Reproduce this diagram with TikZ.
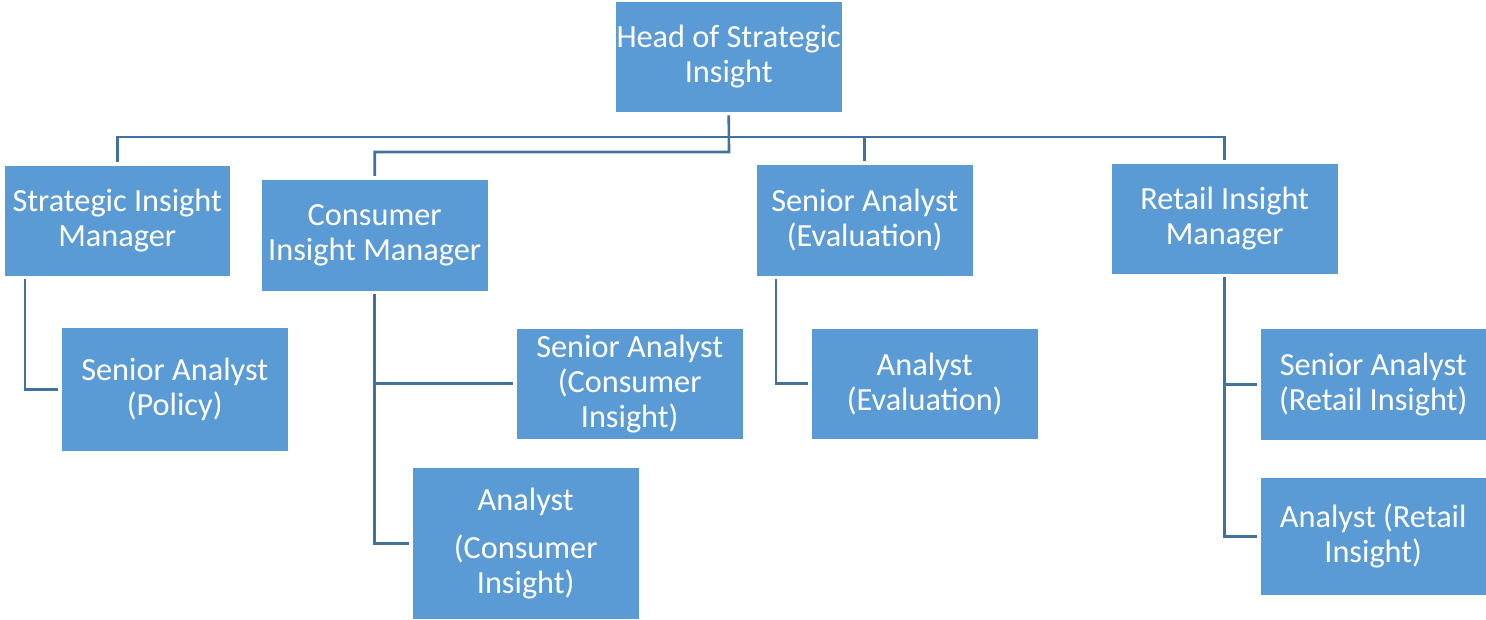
\documentclass[tikz,border=0pt]{standalone}
\usepackage{fontspec}
\setmainfont{Carlito}
\usepackage{xcolor}
\definecolor{boxblue}{RGB}{91,155,213}
\definecolor{lineblue}{RGB}{65,113,156}

\begin{document}
\begin{tikzpicture}[x=1pt, y=-1pt,
  BX/.style ={draw=white, fill=boxblue, text=white, anchor=north west, inner sep=0pt,
              minimum width=227pt, minimum height=111pt, align=center,
              font=\fontsize{32.3}{35}\selectfont},
  LN/.style ={lineblue, line width=2.6pt, shorten <=3pt, shorten >=3pt}
]
  \useasboundingbox (0,0) rectangle (1486,620);

  \node[BX] (h0) at (615,1) {Head of Strategic\\Insight};
  \node[BX, minimum width=226pt] (m1) at (4,165) {Strategic Insight\\Manager};
  \node[BX, minimum height=112pt] (m2) at (261,179) {Consumer\\Insight Manager};
  \node[BX, minimum width=217pt, minimum height=112pt] (m3) at (756,164)
    {Senior Analyst\\(Evaluation)};
  \node[BX] (m4) at (1111,163) {Retail Insight\\Manager};

  \node[BX, minimum height=124pt] (a1) at (61,327) {Senior Analyst\\(Policy)};
  \node[BX] (a2) at (516,328) {Senior Analyst\\(Consumer\\Insight)};
  \node[BX, minimum height=152pt] (a3) at (412,467) {Analyst\\[13pt](Consumer\\Insight)};
  \node[BX] (a4) at (811,328) {Analyst\\(Evaluation)};
  \node[BX, minimum width=226pt, minimum height=112pt] (a5) at (1260,328)
    {Senior Analyst\\(Retail Insight)};
  \node[BX, minimum width=226pt, minimum height=118pt] (a6) at (1260,477)
    {Analyst (Retail\\Insight)};

  \coordinate (j1) at (729,137);
  \coordinate (j2) at (729,152);
  \draw[LN] (h0.south) -- (j2) -| (m2.north);
  \draw[LN] (m1.north) |- (j1) -| (m4.north);
  \draw[LN, shorten <=0pt] (m3.north |- j1) -- (m3.north);

  \draw[LN] ([xshift=21pt]m1.south west) |- (a1.west);
  \draw[LN] ([xshift=20pt]m3.south west) |- (a4.west);
  \foreach \a/\b in {m2/a2,m2/a3,m4/a5,m4/a6}
    \draw[LN] (\a.south) |- (\b.west);
\end{tikzpicture}
\end{document}
